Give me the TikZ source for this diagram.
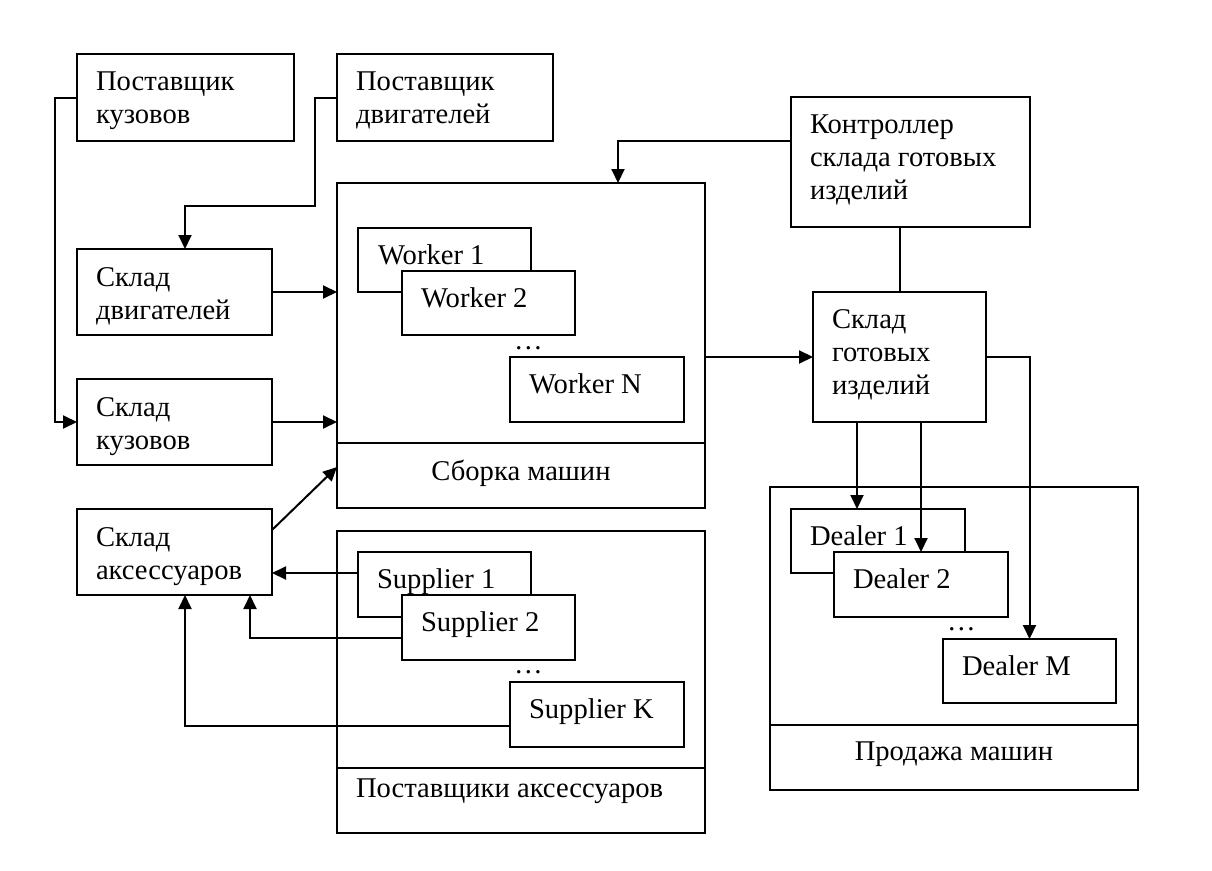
\documentclass[tikz,border=0pt]{standalone}
\usepackage{fontspec}
\setmainfont{Liberation Serif}
\usetikzlibrary{arrows.meta,calc}
\begin{document}
\begin{tikzpicture}[x=1pt,y=-1pt,
  box/.style={draw, line width=2pt, fill=white, inner sep=0pt, outer sep=0pt, anchor=north west},
  txt/.style={font=\fontsize{28.6}{33.3}\selectfont, inner sep=0pt, outer sep=0pt, anchor=base west, align=left},
  ctxt/.style={font=\fontsize{28.6}{33.3}\selectfont, inner sep=0pt, outer sep=0pt, anchor=base},
  line/.style={line width=2pt},
  arr/.style={line width=2pt, -{Triangle[length=14pt,width=13pt]}}]
\useasboundingbox[fill=white] (0,0) rectangle (1212,870);

% containers
\node[box, minimum width=368pt, minimum height=325pt] (asm) at (337,183) {};
\node[box, minimum width=368pt, minimum height=302pt] (sup) at (337,531) {};
\node[box, minimum width=368pt, minimum height=303pt] (sale) at (770,487) {};
\draw[line] ([yshift=65pt]asm.south west) -- ([yshift=65pt]asm.south east);
\draw[line] ([yshift=65pt]sup.south west) -- ([yshift=65pt]sup.south east);
\draw[line] ([yshift=65pt]sale.south west) -- ([yshift=65pt]sale.south east);
\node[ctxt] (asmT) at (521,480) {Сборка машин};
\node[txt] (supT) at (356,797) {Поставщики аксессуаров};
\node[ctxt] (saleT) at (954,760) {Продажа машин};

% outer boxes
\node[box, minimum width=217pt, minimum height=87pt] (pk) at (77,54) {};
\node[box, minimum width=216pt, minimum height=87pt] (pd) at (337,54) {};
\node[box, minimum width=239pt, minimum height=130pt] (ctl) at (791,97) {};
\node[box, minimum width=195pt, minimum height=86pt] (sd) at (77,249) {};
\node[box, minimum width=195pt, minimum height=86pt] (sk) at (77,379) {};
\node[box, minimum width=195pt, minimum height=86pt] (sa) at (77,509) {};
\node[box, minimum width=173pt, minimum height=130pt] (sg) at (813,292) {};

% multi-line texts: base anchor = last line
\node[txt] (pkT) at (96,123.3) {Поставщик\\кузовов};
\node[txt] (pdT) at (356,123.3) {Поставщик\\двигателей};
\node[txt] (ctlT) at (810,199.6) {Контроллер\\склада готовых\\изделий};
\node[txt] (sdT) at (96,319.3) {Склад\\двигателей};
\node[txt] (skT) at (96,449.3) {Склад\\кузовов};
\node[txt] (saT) at (96,579.3) {Склад\\аксессуаров};
\node[txt] (sgT) at (832,394.6) {Склад\\готовых\\изделий};

% workers
\node[box, minimum width=173pt, minimum height=64pt] (w1) at (358,228) {};
\node[txt] (w1T) at (378,264) {Worker 1};
\node[box, minimum width=173pt, minimum height=64pt] (w2) at (402,271) {};
\node[txt] (w2T) at (421,307) {Worker 2};
\node[txt] (wdots) at (514,349) {…};
\node[box, minimum width=174pt, minimum height=65pt] (wn) at (510,357) {};
\node[txt] (wnT) at (529,393) {Worker N};

% suppliers
\node[box, minimum width=173pt, minimum height=65pt] (s1) at (358,552) {};
\node[txt] (s1T) at (377,588) {Supplier 1};
\node[box, minimum width=173pt, minimum height=65pt] (s2) at (402,595) {};
\node[txt] (s2T) at (421,631) {Supplier 2};
\node[txt] (sdots) at (514,673) {…};
\node[box, minimum width=174pt, minimum height=65pt] (sK) at (510,682) {};
\node[txt] (sKT) at (529,718) {Supplier K};

% dealers
\node[box, minimum width=174pt, minimum height=64pt] (d1) at (791,509) {};
\node[txt] (d1T) at (810,545) {Dealer 1};
\node[box, minimum width=174pt, minimum height=65pt] (d2) at (834,552) {};
\node[txt] (d2T) at (853,588) {Dealer 2};
\node[txt] (ddots) at (947,630) {…};
\node[box, minimum width=173pt, minimum height=64pt] (dM) at (943,639) {};
\node[txt] (dMT) at (962,675) {Dealer M};

% connectors
\coordinate (c1) at (185,206);
\draw[arr] (pk.west) -- ++(-22,0) |- (sk.west);
\draw[arr] (pd.west) -- ++(-22,0) |- (c1) -- (c1 |- sd.north);
\draw[arr] (sd.east) -- (sd.east -| asm.west);
\draw[arr] (sk.east) -- (sk.east -| asm.west);
\draw[arr] ([yshift=-21pt]sa.north east) -- ([yshift=41pt]asm.south west);
\draw[arr] ([yshift=21pt]ctl.west) -| ([xshift=281pt]asm.north west);
\draw[line] (sg.north |- ctl.south) -- (sg.north);
\draw[arr] (asm.east |- sg.west) -- (sg.west);
\coordinate (a1) at ([xshift=44pt]sg.south west);
\coordinate (a2) at ([xshift=108pt]sg.south west);
\draw[arr] (a1) -- (a1 |- d1.north);
\draw[arr] (a2) -- (a2 |- d2.north);
\draw[arr] (sg.east) -| (dM.north);
\coordinate (b1) at ([yshift=-21pt]s1.north west);
\draw[arr] (b1) -- (b1 -| sa.east);
\draw[arr] ([yshift=-43pt]s2.north west) -| ([xshift=173pt]sa.south west);
\draw[arr] ([yshift=-44pt]sK.north west) -| ([xshift=108pt]sa.south west);
\end{tikzpicture}
\end{document}
